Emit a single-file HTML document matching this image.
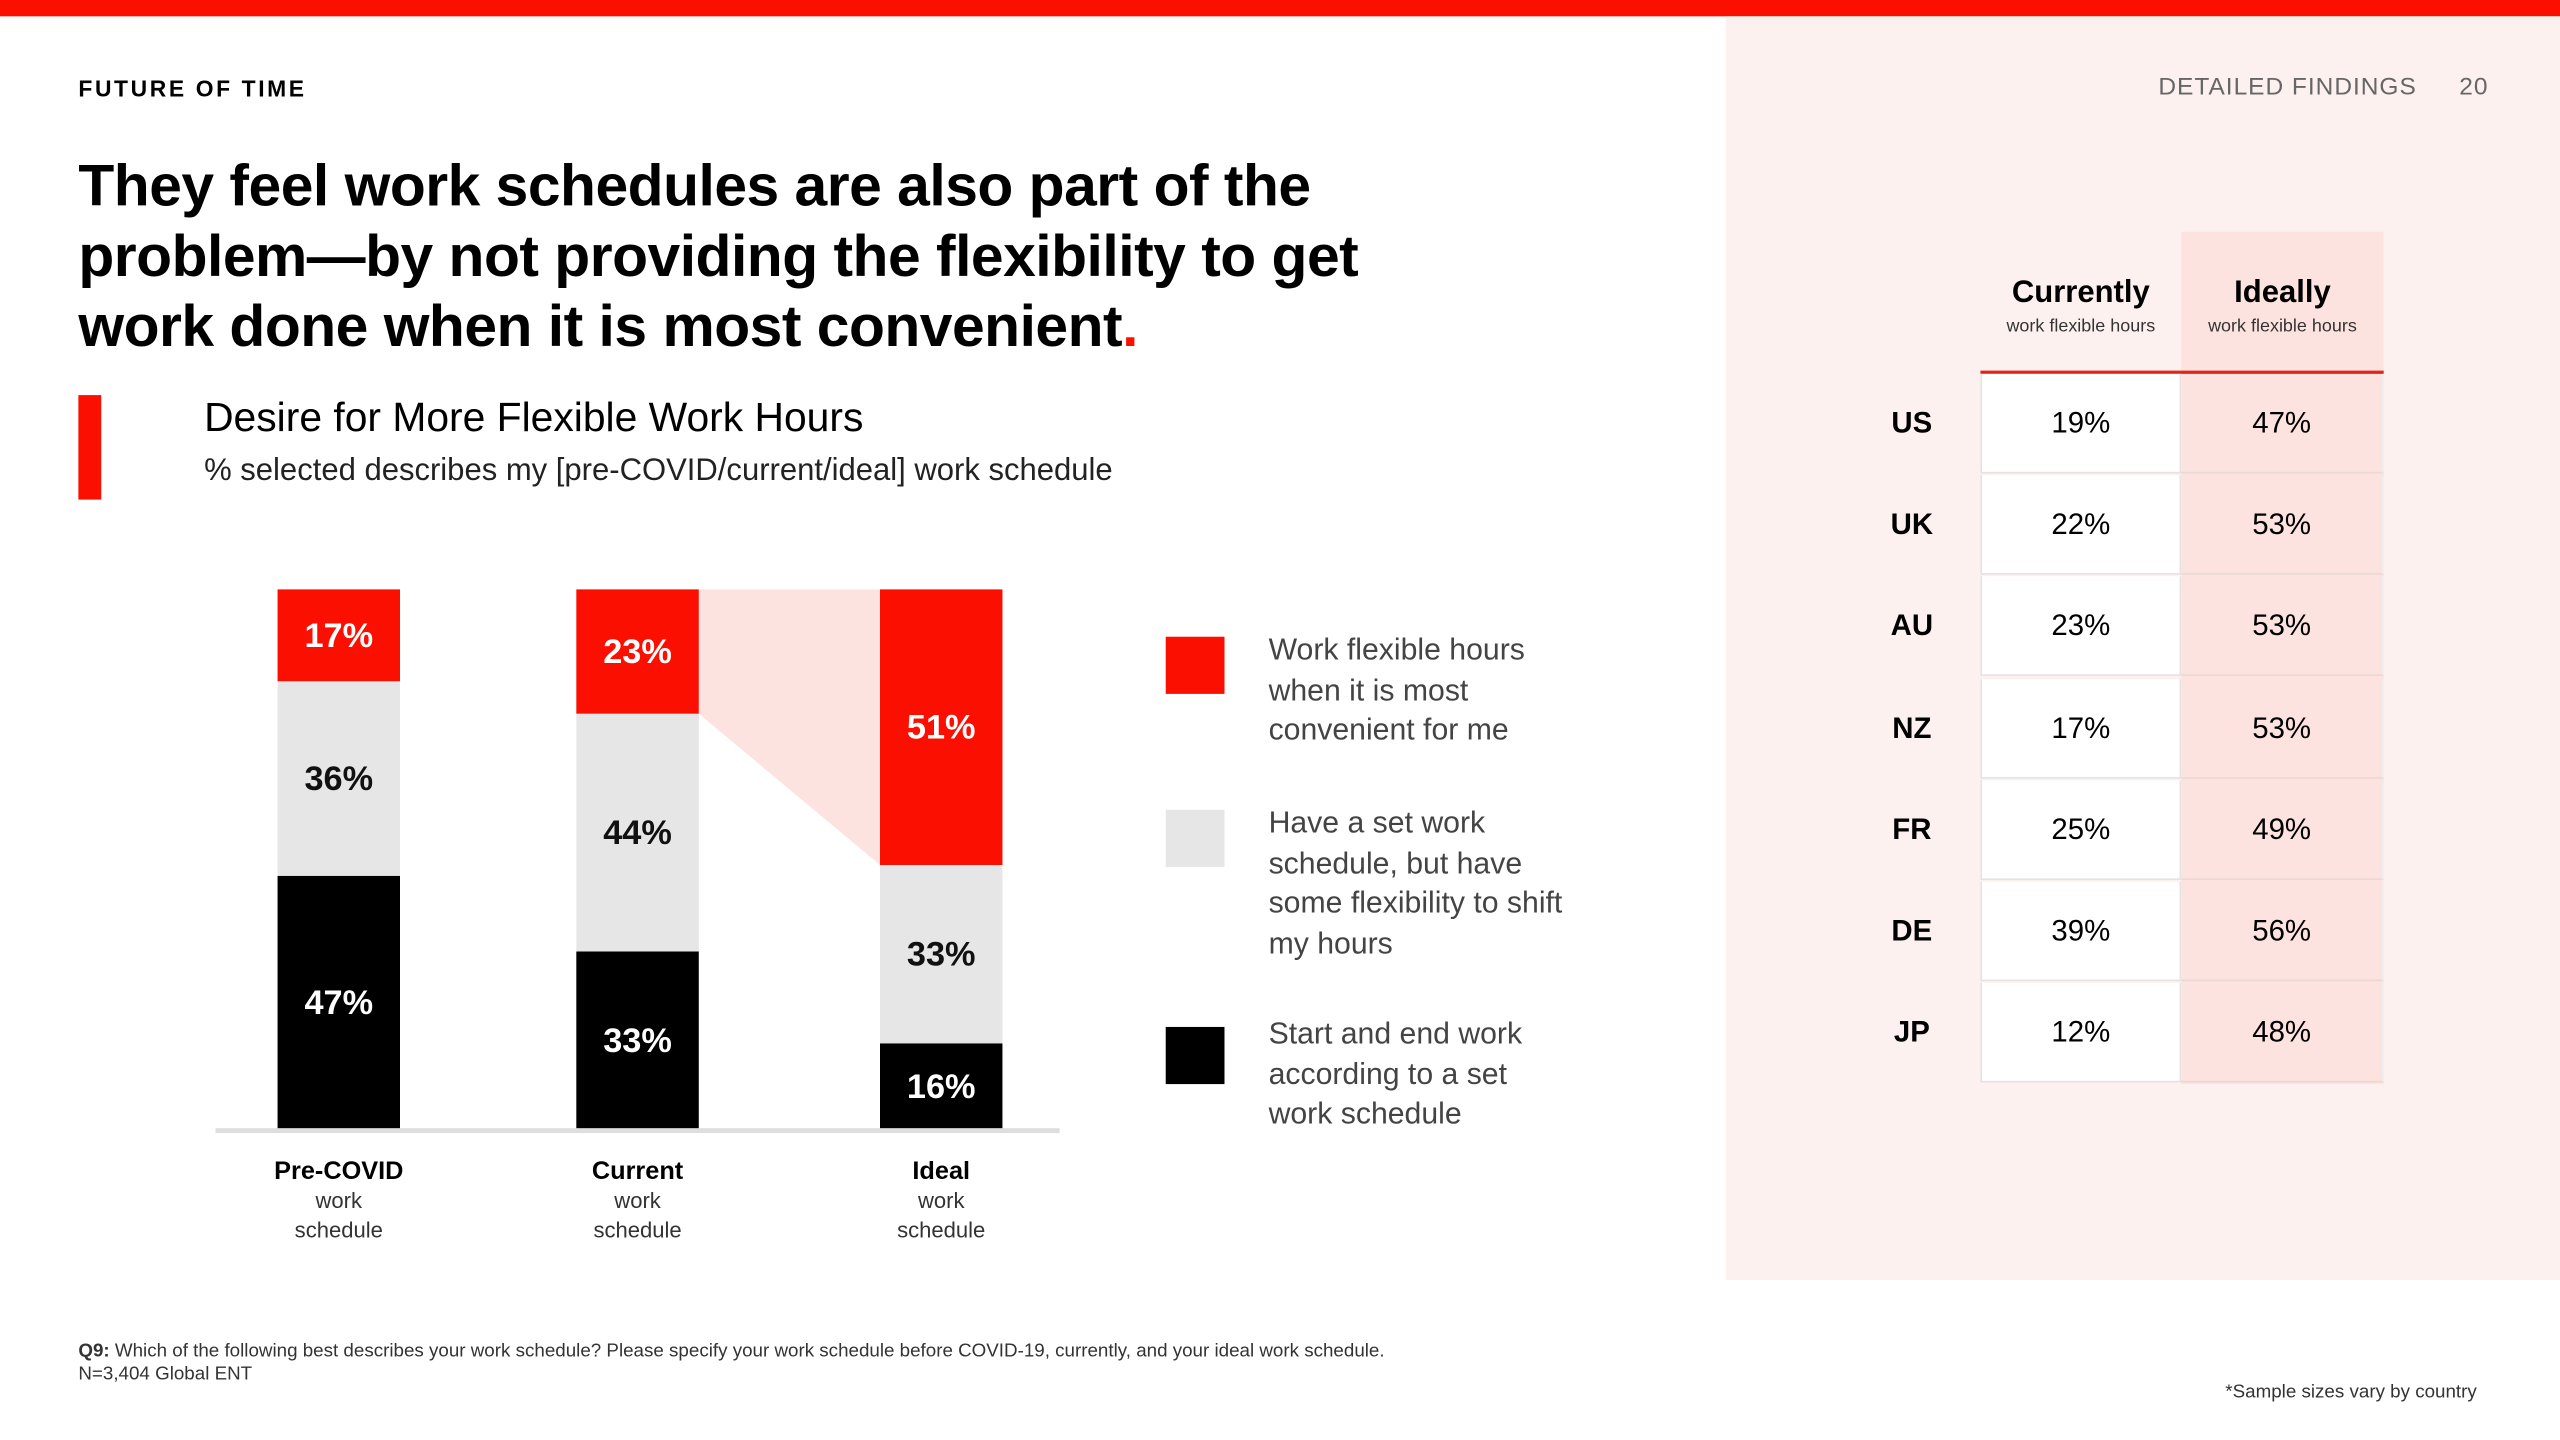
<!DOCTYPE html>
<html><head><meta charset="utf-8"><style>
html,body{margin:0;padding:0;background:#fff;overflow:hidden}
body{width:2560px;height:1440px}
#stage{position:absolute;left:0;top:0;width:1568px;height:882px;transform:scale(1.632653);transform-origin:0 0;font-family:"Liberation Sans",sans-serif;color:#000}
.abs{position:absolute}
</style></head><body>
<div id="stage">
<div class="abs" style="left:0;top:0;width:1568px;height:10px;background:#fa0f00"></div>
<div class="abs" style="left:1057px;top:10px;width:511px;height:774px;background:#fdf1ef"></div>
<div class="abs" style="left:48px;top:46px;font-size:14px;font-weight:bold;letter-spacing:1.6px">FUTURE OF TIME</div>
<div class="abs" style="left:1322px;top:45px;font-size:15px;color:#666;letter-spacing:0.6px">DETAILED FINDINGS<span style="margin-left:26px">20</span></div>
<div class="abs" style="left:48px;top:92px;width:860px;font-size:36px;font-weight:bold;line-height:43px;letter-spacing:-0.3px">They feel work schedules are also part of the problem—by not providing the flexibility to get work done when it is most convenient<span style="color:#fa0f00">.</span></div>
<div class="abs" style="left:48px;top:242px;width:14px;height:64px;background:#fa0f00"></div>
<div class="abs" style="left:125px;top:242px;font-size:25px">Desire for More Flexible Work Hours</div>
<div class="abs" style="left:125px;top:278px;font-size:19px;color:#222">% selected describes my [pre-COVID/current/ideal] work schedule</div>

<svg class="abs" id="chart" style="left:0;top:0" width="1000" height="800"></svg>

<div class="abs" style="left:714px;top:386px;font-size:18.5px;color:#444;line-height:24.5px">
 <div style="position:absolute;left:0;top:0;width:260px"><div style="position:absolute;left:0;top:4px;width:36px;height:35px;background:#fa0f00"></div><div style="position:absolute;left:63px;top:0;width:180px">Work flexible hours when it is most convenient for me</div></div>
 <div style="position:absolute;left:0;top:106px;width:260px"><div style="position:absolute;left:0;top:4px;width:36px;height:35px;background:#e6e6e6"></div><div style="position:absolute;left:63px;top:0;width:180px">Have a set work schedule, but have some flexibility to shift my hours</div></div>
 <div style="position:absolute;left:0;top:235px;width:260px"><div style="position:absolute;left:0;top:8px;width:36px;height:35px;background:#000"></div><div style="position:absolute;left:63px;top:0;width:180px">Start and end work according to a set work schedule</div></div>
</div>

<div class="abs" style="left:48px;top:821px;font-size:11.5px;color:#333;line-height:14px"><b>Q9:</b> Which of the following best describes your work schedule? Please specify your work schedule before COVID-19, currently, and your ideal work schedule.<br>N=3,404 Global ENT</div>
<div class="abs" style="left:1363px;top:847px;font-size:11.5px;color:#333">*Sample sizes vary by country</div>

<div class="abs" id="table" style="left:1140px;top:142px;width:320px;height:522px"></div>
</div>
<script>
const categories=["Pre-COVID","Current","Ideal"];
const flexible=[17,23,51];
const setFlex=[36,44,33];
const setSched=[47,33,16];
const countries=["US","UK","AU","NZ","FR","DE","JP"];
const currently=[19,22,23,17,25,39,12];
const ideally=[47,53,53,53,49,56,48];

const NS="http://www.w3.org/2000/svg";
const svg=document.getElementById('chart');
const base=692,plotH=331,barW=75;
const xPos=i=>[170,353,539][i];
const y=v=>plotH*v/100;
function mk(tag,attrs){const e=document.createElementNS(NS,tag);for(const k in attrs)e.setAttribute(k,attrs[k]);svg.appendChild(e);return e;}
{
 const ci=1,ii=2;
 const cTop=base-y(setSched[ci]+setFlex[ci]+flexible[ci]);
 const cBot=base-y(setSched[ci]+setFlex[ci]);
 const iTop=base-y(setSched[ii]+setFlex[ii]+flexible[ii]);
 const iBot=base-y(setSched[ii]+setFlex[ii]);
 const p=mk('polygon',{points:`${xPos(ci)+barW},${cTop} ${xPos(ii)},${iTop} ${xPos(ii)},${iBot} ${xPos(ci)+barW},${cBot}`,fill:'#fde3e0'});
 
 
}
const series=[{v:setSched,c:'#000',t:'#fff',n:'set-schedule'},{v:setFlex,c:'#e6e6e6',t:'#111',n:'set-flex'},{v:flexible,c:'#fa0f00',t:'#fff',n:'flexible'}];
categories.forEach((cat,i)=>{
 let acc=0;
 series.forEach(s=>{
  const v=s.v[i];const y0=base-y(acc+v);const h=y(v);
  const r=mk('rect',{x:xPos(i),y:y0,width:barW,height:h,fill:s.c});
  
  
  const t=mk('text',{x:xPos(i)+barW/2,y:y0+h/2+7,'text-anchor':'middle','font-size':21,'font-weight':'bold',fill:s.t,'font-family':'Liberation Sans, sans-serif'});
  t.textContent=v+'%';
  
  
  acc+=v;
 });
 const lab=mk('text',{x:xPos(i)+barW/2,y:base+30,'text-anchor':'middle','font-size':15.5,'font-weight':'bold','font-family':'Liberation Sans, sans-serif'});
 lab.textContent=cat;
 
 
 ['work','schedule'].forEach((w,j)=>{
  const s=mk('text',{x:xPos(i)+barW/2,y:base+48+j*18,'text-anchor':'middle','font-size':13.5,fill:'#333','font-family':'Liberation Sans, sans-serif'});
  s.textContent=w;
  
  
 });
});
const ax=mk('rect',{x:132,y:base-1,width:517,height:3,fill:'#dedede'});



const tb=document.getElementById('table');
let html=`<div style="position:absolute;left:196px;top:0;width:124px;height:522px;background:#fde3df"></div>
<div style="position:absolute;left:73px;top:27px;width:123px;text-align:center"><div style="font-size:19px;font-weight:bold">Currently</div><div style="font-size:11px;color:#333;margin-top:3px">work flexible hours</div></div>
<div style="position:absolute;left:196px;top:27px;width:124px;text-align:center"><div style="font-size:19px;font-weight:bold">Ideally</div><div style="font-size:11px;color:#333;margin-top:3px">work flexible hours</div></div>
<div style="position:absolute;left:73px;top:85px;width:247px;height:2px;background:#e0261b"></div>`;
countries.forEach((c,i)=>{
 const top=87+i*62.2;
 html+=`<div style="position:absolute;left:0;top:${top}px;width:320px;height:62px">
 <div style="position:absolute;left:0;width:62px;text-align:center;top:20px;font-size:18px;font-weight:bold">${c}</div>
 <div style="position:absolute;left:73px;top:0;width:121px;height:60px;background:#fff;border:1px solid #e6e2e1;border-top:none;text-align:center;line-height:60px;font-size:18px">${currently[i]}%</div>
 <div style="position:absolute;left:196px;top:0;width:123px;height:60px;border-right:1px solid #eee;border-bottom:1px solid #ead8d5;text-align:center;line-height:60px;font-size:18px">${ideally[i]}%</div></div>`;
});
tb.innerHTML=html;
</script>
</body></html>
